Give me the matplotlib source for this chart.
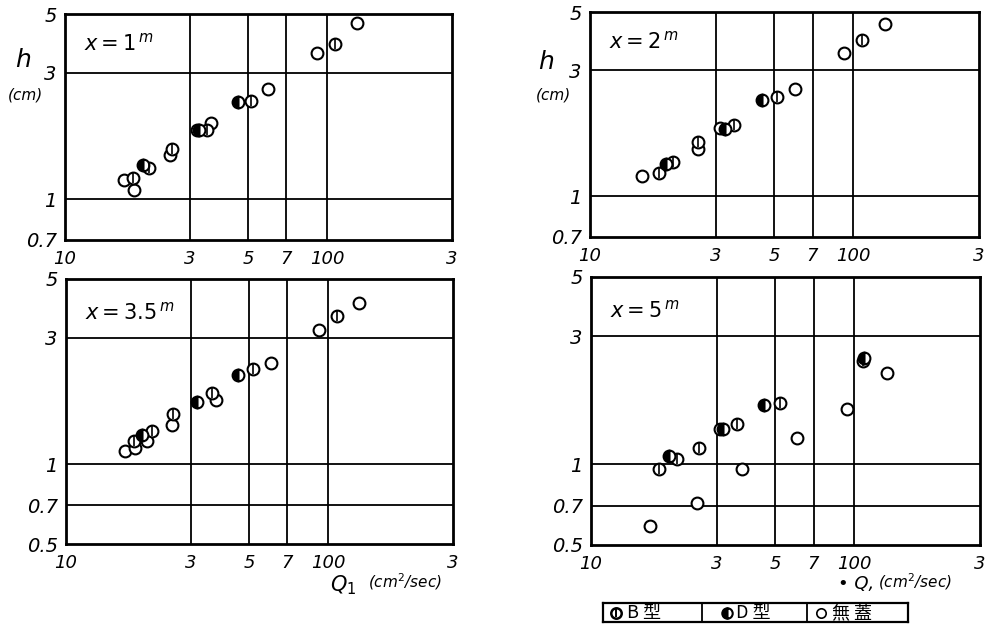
import matplotlib
matplotlib.use("Agg")
import matplotlib.pyplot as plt

# ---------------- data ----------------
# Panel x = 1 m
p1_B_Q = [18.2, 20.9, 25.7, 34.9, 51.3, 107.3]
p1_B_h = [1.20, 1.31, 1.55, 1.83, 2.35, 3.85]
p1_D_Q = [19.9, 32.5, 45.6]
p1_D_h = [1.34, 1.83, 2.33]
p1_O_Q = [16.8, 18.4, 25.2, 31.8, 36.1, 59.7, 91.8, 130.5]
p1_O_h = [1.18, 1.08, 1.47, 1.83, 1.93, 2.60, 3.55, 4.64]

# Panel x = 2 m
p2_B_Q = [18.3, 20.6, 25.6, 35.3, 51.4, 107.5]
p2_B_h = [1.22, 1.35, 1.60, 1.86, 2.37, 3.91]
p2_D_Q = [19.4, 32.6, 44.9]
p2_D_h = [1.32, 1.80, 2.32]
p2_O_Q = [15.8, 25.6, 31.2, 60.0, 92.1, 131.9]
p2_O_h = [1.19, 1.51, 1.82, 2.56, 3.48, 4.49]

# Panel x = 3.5 m
p3_B_Q = [18.1, 21.3, 25.5, 36.0, 51.9, 108.4]
p3_B_h = [1.22, 1.34, 1.55, 1.86, 2.28, 3.63]
p3_D_Q = [19.5, 31.6, 45.2]
p3_D_h = [1.29, 1.71, 2.17]
p3_O_Q = [16.8, 18.4, 20.4, 25.3, 37.5, 60.6, 92.3, 131.5]
p3_O_h = [1.125, 1.15, 1.22, 1.41, 1.74, 2.40, 3.21, 4.05]

# Panel x = 5 m
p4_B_Q = [18.2, 21.3, 25.8, 35.7, 52.2, 107.5]
p4_B_h = [0.96, 1.05, 1.15, 1.41, 1.70, 2.43]
p4_D_Q = [19.7, 31.6, 45.4, 108.5]
p4_D_h = [1.07, 1.35, 1.67, 2.50]
p4_O_Q = [16.7, 25.2, 30.8, 37.5, 60.7, 93.5, 132.7]
p4_O_h = [0.59, 0.72, 1.35, 0.957, 1.25, 1.61, 2.20]

x_ticks = [10, 30, 50, 70, 100, 300]
x_ticklabels = ["10", "3", "5", "7", "100", "3"]
y_ticks_top = [0.7, 1, 3, 5]
y_ticklabels_top = ["0.7", "1", "3", "5"]
y_ticks_bot = [0.5, 0.7, 1, 3, 5]
y_ticklabels_bot = ["0.5", "0.7", "1", "3", "5"]

panel_titles = [r"$\mathit{x = 1^{\,m}}$", r"$\mathit{x = 2^{\,m}}$",
                r"$\mathit{x = 3.5^{\,m}}$", r"$\mathit{x = 5^{\,m}}$"]
legend_labels = ["B 型", "D 型", "無 蓋"]

# ---------------- figure ----------------
W, H = 987, 630
fig = plt.figure(figsize=(W / 100, H / 100), dpi=100)
fig.patch.set_facecolor("white")

def ax_rect(l, t, r, b):
    return [l / W, (H - b) / H, (r - l) / W, (b - t) / H]

rects = [ax_rect(65, 14, 452, 240), ax_rect(590, 12, 979, 237),
         ax_rect(66, 279, 453, 544), ax_rect(591, 277, 980, 545)]

panels = [
    (p1_B_Q, p1_B_h, p1_D_Q, p1_D_h, p1_O_Q, p1_O_h, (0.7, 5), y_ticks_top, y_ticklabels_top, [1, 3]),
    (p2_B_Q, p2_B_h, p2_D_Q, p2_D_h, p2_O_Q, p2_O_h, (0.7, 5), y_ticks_top, y_ticklabels_top, [1, 3]),
    (p3_B_Q, p3_B_h, p3_D_Q, p3_D_h, p3_O_Q, p3_O_h, (0.5, 5), y_ticks_bot, y_ticklabels_bot, [0.7, 1, 3]),
    (p4_B_Q, p4_B_h, p4_D_Q, p4_D_h, p4_O_Q, p4_O_h, (0.5, 5), y_ticks_bot, y_ticklabels_bot, [0.7, 1, 3]),
]

ms = 8.5
mew = 1.5
xtick_font = dict(family="DejaVu Sans", style="italic", size=13)
ytick_font = dict(family="DejaVu Sans", style="italic", size=14)

for i, (rect, pdat) in enumerate(zip(rects, panels)):
    bq, bh, dq, dh, oq, oh, ylim, yt, ytl, hlines = pdat
    ax = fig.add_axes(rect)
    ax.set_xscale("log")
    ax.set_yscale("log")
    ax.set_xlim(10, 300)
    ax.set_ylim(*ylim)
    for v in [30, 50, 70, 100]:
        ax.axvline(v, color="black", lw=1.3, zorder=1)
    for v in hlines:
        ax.axhline(v, color="black", lw=1.3, zorder=1)
    # open circles
    ax.plot(oq, oh, ls="none", marker="o", ms=ms, mfc="white", mec="black", mew=mew, zorder=3)
    # B type: circle with vertical bar
    ax.plot(bq, bh, ls="none", marker="o", ms=ms, mfc="white", mec="black", mew=mew, zorder=4)
    ax.plot(bq, bh, ls="none", marker="|", ms=ms * 0.8, mec="black", mew=1.2, zorder=5)
    # D type: half filled
    ax.plot(dq, dh, ls="none", marker="o", ms=ms, fillstyle="left", mfc="black",
            mfcalt="white", mec="black", mew=mew, zorder=4)
    ax.minorticks_off()
    ax.set_xticks(x_ticks)
    ax.set_xticklabels(x_ticklabels, **xtick_font)
    ax.set_yticks(yt)
    ax.set_yticklabels(ytl, **ytick_font)
    ax.tick_params(axis="x", length=0, pad=7)
    ax.tick_params(axis="y", length=0, pad=6)
    for s in ax.spines.values():
        s.set_linewidth(2.0)
    tx = 0.05
    ty = 0.87 if i < 2 else 0.875
    ax.text(tx, ty, panel_titles[i], transform=ax.transAxes, fontsize=15,
            family="DejaVu Serif", ha="left", va="center")

# axis labels
lab = dict(family="DejaVu Sans", style="italic")
fig.text(23 / W, 1 - 60 / H, "h", fontsize=18, ha="center", va="center", **lab)
fig.text(25 / W, 1 - 95 / H, "(cm)", fontsize=11, ha="center", va="center", **lab)
fig.text(546 / W, 1 - 62 / H, "h", fontsize=18, ha="center", va="center", **lab)
fig.text(553 / W, 1 - 95 / H, "(cm)", fontsize=11, ha="center", va="center", **lab)
fig.text(330 / W, 1 - 585 / H, r"$Q_1$", fontsize=15, ha="left", va="center", **lab)
fig.text(368 / W, 1 - 582 / H, r"(cm$^2$/sec)", fontsize=11, ha="left", va="center", **lab)
fig.text(838 / W, 1 - 584 / H, "• Q, ", fontsize=13, ha="left", va="center", **lab)
fig.text(878 / W, 1 - 582 / H, r"(cm$^2$/sec)", fontsize=11, ha="left", va="center", **lab)

# legend box
lax = fig.add_axes([603 / W, 1 - 622 / H, (908 - 603) / W, 19 / H])
lax.set_xlim(603, 908)
lax.set_ylim(0, 1)
lax.set_xticks([])
lax.set_yticks([])
for s in lax.spines.values():
    s.set_linewidth(1.6)
lax.axvline(702, color="black", lw=1.3)
lax.axvline(807, color="black", lw=1.3)
lm = 7.5
lax.plot([616], [0.5], marker="o", ms=lm, mfc="white", mec="black", mew=1.8, ls="none")
lax.plot([616], [0.5], marker="|", ms=lm * 0.8, mec="black", mew=1.4, ls="none")
lax.plot([727], [0.5], marker="o", ms=lm, fillstyle="left", mfc="black", mfcalt="white",
         mec="black", mew=1.5, ls="none")
lax.plot([821], [0.5], marker="o", ms=lm * 0.9, mfc="white", mec="black", mew=1.2, ls="none")
cjk = ["Noto Sans CJK JP", "DejaVu Sans"]
lax.text(627, 0.45, legend_labels[0], family=cjk, fontsize=13, ha="left", va="center")
lax.text(736, 0.45, legend_labels[1], family=cjk, fontsize=13, ha="left", va="center")
lax.text(832, 0.45, legend_labels[2], family=cjk, fontsize=13, ha="left", va="center")

fig.savefig("out.png", dpi=100, facecolor="white")
